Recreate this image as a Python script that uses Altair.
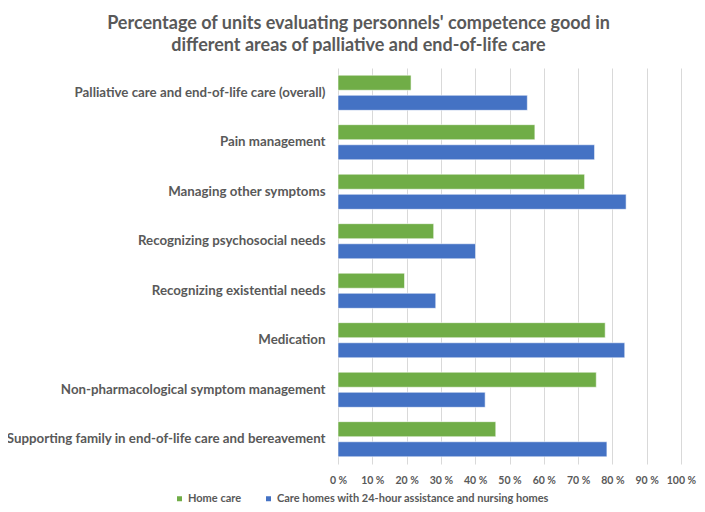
import altair as alt
import pandas as pd

categories = [
    "Palliative care and end-of-life care (overall)",
    "Pain management",
    "Managing other symptoms",
    "Recognizing psychosocial needs",
    "Recognizing existential needs",
    "Medication",
    "Non-pharmacological symptom management",
    "Supporting family in end-of-life care and bereavement",
]
home_care = [21.3, 57.4, 71.9, 27.9, 19.4, 77.9, 75.3, 46.0]
care_homes = [55.2, 74.8, 84.0, 40.1, 28.5, 83.6, 42.9, 78.4]
series = ["Home care", "Care homes with 24-hour assistance and nursing homes"]
colors = ["#70AD47", "#4472C4"]
x_ticks = list(range(0, 101, 10))

rows = []
for c, h, n in zip(categories, home_care, care_homes):
    rows.append({"area": c, "series": series[0], "value": h})
    rows.append({"area": c, "series": series[1], "value": n})
df = pd.DataFrame(rows)

FONT = "Lato"
GRAY = "#595959"

chart = alt.Chart(df).mark_bar(stroke="#ffffff", strokeWidth=0.8, strokeOpacity=0.7).encode(
    y=alt.Y(
        "area:N",
        sort=categories,
        scale=alt.Scale(paddingInner=0.29, paddingOuter=0.145),
        axis=alt.Axis(
            title=None, labelFont=FONT, labelFontWeight="bold", labelFontSize=13.3,
            labelColor=GRAY, labelPadding=13, ticks=False, domain=False, labelLimit=400,
        ),
    ),
    yOffset=alt.YOffset("series:N", sort=series, scale=alt.Scale(paddingInner=0.25, paddingOuter=0)),
    x=alt.X(
        "value:Q",
        scale=alt.Scale(domain=[0, 100]),
        axis=alt.Axis(
            values=x_ticks, labelExpr="datum.value + ' %'", title=None, grid=True,
            gridColor="#D9D9D9", gridWidth=1, domain=False, ticks=False,
            labelFont=FONT, labelFontWeight="bold", labelFontSize=10.5, labelColor=GRAY,
            labelPadding=11, labelOverlap=False, labelFlush=False,
        ),
    ),
    color=alt.Color(
        "series:N",
        sort=series,
        scale=alt.Scale(domain=series, range=colors),
        legend=alt.Legend(
            title=None, orient="none", legendX=-164, legendY=425, direction="horizontal",
            symbolType="square", symbolSize=25, symbolStrokeWidth=0,
            labelFont=FONT, labelFontWeight="bold", labelFontSize=11, labelColor=GRAY,
            columnPadding=21, labelOffset=3, labelLimit=400,
        ),
    ),
).properties(
    width=343,
    height=396,
    autosize="none",
    padding={"left": 330, "top": 60, "right": 16, "bottom": 40},
    title=alt.Title(
        ["Percentage of units evaluating personnels' competence good in",
         "different areas of palliative and end-of-life care"],
        font=FONT, fontSize=18, fontWeight="bold", color=GRAY, anchor="middle",
        frame="group", dx=-151, offset=13, lineHeight=22,
    ),
).configure_view(stroke=None)

chart.save("out.html", embed_options={"renderer": "svg", "actions": False})
